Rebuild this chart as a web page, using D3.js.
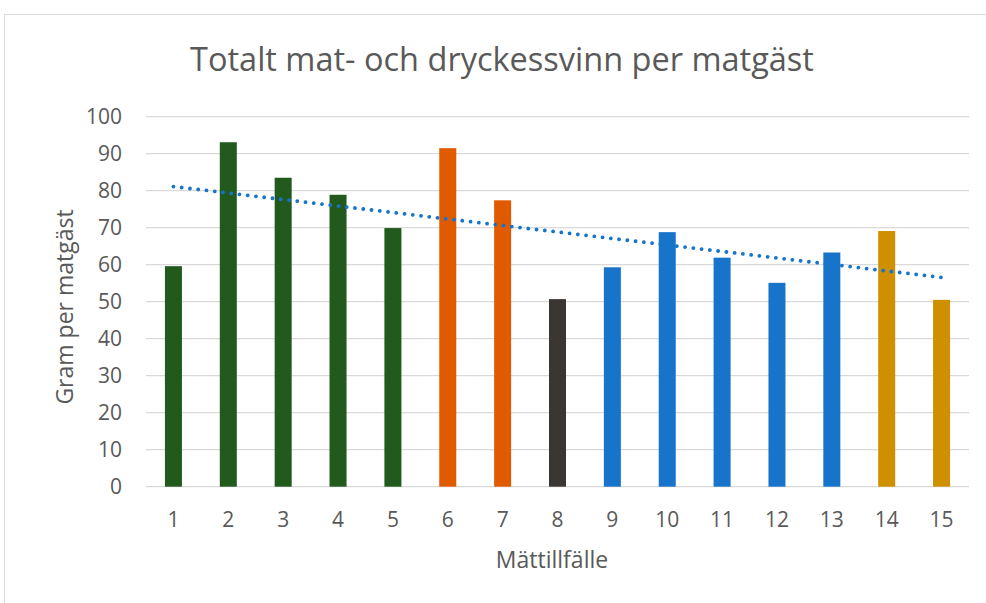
<!DOCTYPE html>
<html lang="sv">
<head>
    <meta charset="UTF-8">
    <title>Totalt mat- och dryckessvinn per matgäst</title>
    <script src="https://d3js.org/d3.v7.min.js"></script>
    <style>
        body { margin: 0; background: #fff; }
        text { font-family: "Open Sans", sans-serif; fill: #595959; }
    </style>
</head>
<body>
    <div id="chart"></div>

    <script>
        // Data
        const categories = ["1", "2", "3", "4", "5", "6", "7", "8", "9", "10", "11", "12", "13", "14", "15"];
        const values = [59.6, 93.1, 83.5, 78.9, 69.9, 91.5, 77.4, 50.7, 59.3, 68.8, 61.9, 55.1, 63.3, 69.1, 50.5];
        const barColors = ["#215a1c", "#215a1c", "#215a1c", "#215a1c", "#215a1c",
                           "#e05a00", "#e05a00", "#3b3634",
                           "#1874cb", "#1874cb", "#1874cb", "#1874cb", "#1874cb",
                           "#cf9000", "#cf9000"];
        const yTicks = [0, 10, 20, 30, 40, 50, 60, 70, 80, 90, 100];

        const width = 986, height = 603;
        const plot = { left: 146, right: 969, top: 116.7, bottom: 486.7 };

        const svg = d3.select("#chart")
            .append("svg")
            .attr("width", width)
            .attr("height", height);

        // chart frame
        svg.append("rect")
            .attr("x", 4.5).attr("y", 14.5)
            .attr("width", 1000).attr("height", 620)
            .attr("fill", "none")
            .attr("stroke", "#d9d9d9");

        const x = d3.scaleBand()
            .domain(categories)
            .range([plot.left, plot.right])
            .paddingInner(0.69)
            .paddingOuter(0.345);

        const y = d3.scaleLinear()
            .domain([0, 100])
            .range([plot.bottom, plot.top]);

        // gridlines
        svg.append("g")
            .selectAll("line")
            .data(yTicks)
            .join("line")
            .attr("x1", plot.left).attr("x2", plot.right)
            .attr("y1", d => y(d)).attr("y2", d => y(d))
            .attr("stroke", "#d9d9d9")
            .attr("stroke-width", 1.3);

        // y tick labels
        svg.append("g")
            .selectAll("text")
            .data(yTicks)
            .join("text")
            .attr("x", 122)
            .attr("y", d => y(d) + 7.5)
            .attr("text-anchor", "end")
            .attr("font-size", 21)
            .text(d => d);

        // bars
        svg.append("g")
            .selectAll("rect")
            .data(values)
            .join("rect")
            .attr("x", (d, i) => x(categories[i]))
            .attr("y", d => y(d))
            .attr("width", x.bandwidth())
            .attr("height", d => y(0) - y(d))
            .attr("fill", (d, i) => barColors[i]);

        // x tick labels
        svg.append("g")
            .selectAll("text")
            .data(categories)
            .join("text")
            .attr("x", d => x(d) + x.bandwidth() / 2)
            .attr("y", 527)
            .attr("text-anchor", "middle")
            .attr("font-size", 21)
            .text(d => d);

        // linear trendline (least squares over category index)
        const idx = values.map((v, i) => i + 1);
        const mx = d3.mean(idx), my = d3.mean(values);
        const slope = d3.sum(idx, (k, i) => (k - mx) * (values[i] - my)) / d3.sum(idx, k => (k - mx) ** 2);
        const icpt = my - slope * mx;
        const trend = [1, categories.length].map(k => [x(categories[k - 1]) + x.bandwidth() / 2, y(icpt + slope * k)]);

        svg.append("path")
            .attr("d", d3.line()(trend))
            .attr("fill", "none")
            .attr("stroke", "#1874cb")
            .attr("stroke-width", 3.8)
            .attr("stroke-linecap", "round")
            .attr("stroke-dasharray", "0.01 8.3");

        // titles
        svg.append("text")
            .attr("x", 502)
            .attr("y", 71)
            .attr("text-anchor", "middle")
            .attr("font-size", 32.5)
            .text("Totalt mat- och dryckessvinn per matgäst");

        svg.append("text")
            .attr("x", 552)
            .attr("y", 568)
            .attr("text-anchor", "middle")
            .attr("font-size", 23)
            .text("Mättillfälle");

        svg.append("text")
            .attr("transform", "translate(73,307) rotate(-90)")
            .attr("text-anchor", "middle")
            .attr("font-size", 23)
            .text("Gram per matgäst");
    </script>
</body>
</html>
